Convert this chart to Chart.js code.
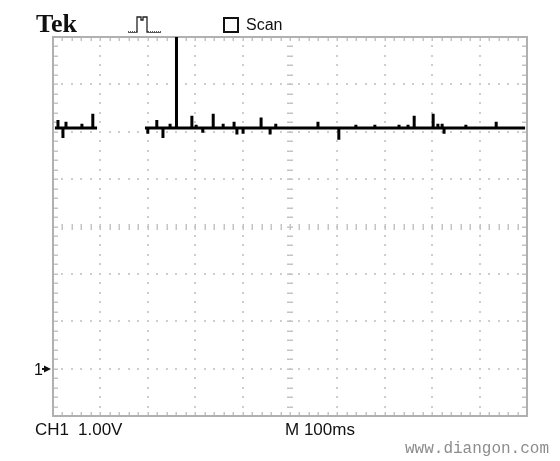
<!DOCTYPE html>
<html><head><meta charset="utf-8">
<script src="https://cdn.jsdelivr.net/npm/chart.js@4"></script>
<style>html,body{margin:0;padding:0;background:#fff;}canvas{display:block;}</style>
</head><body>
<canvas id="c" width="560" height="461"></canvas>
<script>
// ---- data (time in ms, voltage in V, 1 V/div, 100 ms/div, ground marker at 0 V) ----
const timeRange = [0, 1000];
const voltRange = [-1, 7];
const baselineVolts = 5.08;
const segmentStarts = [4, 194];
const segmentEnds = [93, 996];
const spikeTimes = [10.5, 21, 27.4, 61, 84, 200, 219, 232, 247, 260.5, 293, 302, 316, 338, 359, 382, 388, 401, 439, 458, 470, 559, 603, 639, 679, 730, 749, 762, 802, 812, 821, 825, 871, 935];
const spikeVolts = [5.25, 4.87, 5.21, 5.17, 5.38, 4.96, 5.25, 4.87, 5.17, 7.0, 5.34, 5.15, 4.98, 5.38, 5.17, 5.21, 4.94, 4.96, 5.30, 4.94, 5.17, 5.21, 4.83, 5.15, 5.15, 5.15, 5.15, 5.34, 5.38, 5.17, 5.17, 4.96, 5.15, 5.21];
const brandLabel = 'Tek';
const modeLabel = 'Scan';
const channelLabel = 'CH1';
const voltScaleLabel = '1.00V';
const timeScaleLabel = 'M 100ms';
const refMarkerLabel = '1';
const watermarkLabel = 'www.diangon.com';

// build trace points from the arrays
const trace = [];
segmentStarts.forEach((s, k) => {
  const e = segmentEnds[k];
  if (k > 0) trace.push({x: (segmentEnds[k-1] + s) / 2, y: null});
  trace.push({x: s, y: baselineVolts});
  spikeTimes.forEach((t, i) => {
    if (t >= s && t <= e) {
      trace.push({x: t, y: baselineVolts});
      trace.push({x: t, y: spikeVolts[i]});
      trace.push({x: t, y: baselineVolts});
    }
  });
  trace.push({x: e, y: baselineVolts});
});

const graticule = {
  id: 'graticule',
  beforeDatasetsDraw(chart) {
    const {ctx, scales: {x, y}} = chart;
    const X = v => Math.round(x.getPixelForValue(v));
    const Y = v => Math.round(y.getPixelForValue(v));
    const tMin = timeRange[0], tMax = timeRange[1], vMin = voltRange[0], vMax = voltRange[1];
    const tDiv = (tMax - tMin) / 10, vDiv = (vMax - vMin) / 8;
    const tCenter = tMin + 5 * tDiv, vCenter = vMin + 4 * vDiv;
    ctx.save();
    ctx.fillStyle = '#cdcdcd';
    // dotted major lines
    for (let i = 1; i < 10; i++) {
      if (i === 5) continue;
      const px = X(tMin + i * tDiv);
      for (let j = 1; j < 40; j++) ctx.fillRect(px - 1, Y(vMin + j * vDiv / 5) - 1, 2, 2);
    }
    for (let i = 1; i < 8; i++) {
      if (i === 4) continue;
      const py = Y(vMin + i * vDiv);
      for (let j = 1; j < 50; j++) ctx.fillRect(X(tMin + j * tDiv / 5) - 1, py - 1, 2, 2);
    }
    // center cross ticks
    ctx.fillStyle = '#c4c4c4';
    const cx = X(tCenter), cy = Y(vCenter);
    for (let j = 1; j < 40; j++) ctx.fillRect(cx - 3, Y(vMin + j * vDiv / 5) - 0.5, 6, 1.5);
    for (let j = 1; j < 50; j++) ctx.fillRect(X(tMin + j * tDiv / 5) - 0.5, cy - 3, 1.5, 6);
    // border ticks
    const L = X(tMin), R = X(tMax), T = Y(vMax), B = Y(vMin);
    for (let j = 1; j < 50; j++) {
      const px = X(tMin + j * tDiv / 5);
      ctx.fillRect(px - 0.5, T, 1.5, 4);
      ctx.fillRect(px - 0.5, B - 4, 1.5, 4);
    }
    for (let j = 1; j < 40; j++) {
      const py = Y(vMin + j * vDiv / 5);
      ctx.fillRect(L, py - 0.5, 5, 1.5);
      ctx.fillRect(R - 5, py - 0.5, 5, 1.5);
    }
    // border
    ctx.strokeStyle = '#b0b0b0';
    ctx.lineWidth = 2;
    ctx.strokeRect(L, T, R - L, B - T);
    ctx.restore();
  },
  afterDraw(chart) {
    const {ctx, scales: {y}} = chart;
    ctx.save();
    ctx.fillStyle = '#111';
    ctx.textBaseline = 'alphabetic';
    ctx.font = 'bold 26px "Liberation Serif", "DejaVu Serif", serif';
    ctx.fillText(brandLabel, 36, 32);
    // trigger pulse icon
    ctx.strokeStyle = '#222';
    ctx.lineWidth = 1.3;
    ctx.beginPath();
    ctx.moveTo(128, 32); ctx.lineTo(137, 32); ctx.lineTo(137, 17); ctx.lineTo(141, 17);
    ctx.lineTo(141, 20); ctx.lineTo(143, 20); ctx.lineTo(143, 17); ctx.lineTo(147, 17);
    ctx.lineTo(147, 32); ctx.lineTo(161, 32);
    ctx.stroke();
    ctx.fillStyle = '#fff';
    for (let px = 129; px < 137; px += 2) ctx.fillRect(px, 31, 1, 1);
    for (let px = 149; px < 161; px += 2) ctx.fillRect(px, 31, 1, 1);
    // checkbox + Scan
    ctx.strokeStyle = '#111';
    ctx.lineWidth = 2;
    ctx.strokeRect(224, 18, 14, 14);
    ctx.fillStyle = '#111';
    ctx.font = '16px "Liberation Sans", Arial, sans-serif';
    ctx.fillText(modeLabel, 246, 30);
    // bottom labels
    ctx.font = '17px "Liberation Sans", Arial, sans-serif';
    ctx.fillText(channelLabel, 35, 435);
    ctx.fillText(voltScaleLabel, 78, 435);
    ctx.fillText(timeScaleLabel, 285, 435);
    // ground reference marker
    const gy = Math.round(y.getPixelForValue(0));
    ctx.font = '16px "Liberation Sans", Arial, sans-serif';
    ctx.fillText(refMarkerLabel, 34, gy + 6);
    ctx.beginPath();
    ctx.moveTo(44, gy - 3.5); ctx.lineTo(51, gy); ctx.lineTo(44, gy + 3.5); ctx.closePath();
    ctx.fill();
    ctx.fillRect(42, gy - 1, 4, 2);
    // watermark
    ctx.fillStyle = '#8c8c8c';
    ctx.font = '16px "Liberation Mono", "DejaVu Sans Mono", monospace';
    ctx.fillText(watermarkLabel, 405, 453);
    ctx.restore();
  }
};

new Chart(document.getElementById('c'), {
  type: 'line',
  data: {
    datasets: [{
      data: trace,
      borderColor: '#000',
      borderWidth: 3,
      pointRadius: 0,
      tension: 0,
      spanGaps: false,
      borderJoinStyle: 'bevel',
      borderCapStyle: 'butt'
    }]
  },
  options: {
    responsive: false,
    animation: false,
    devicePixelRatio: 1,
    layout: {padding: {left: 53, right: 33, top: 37, bottom: 45}},
    plugins: {legend: {display: false}, tooltip: {enabled: false}},
    scales: {
      x: {type: 'linear', min: timeRange[0], max: timeRange[1], display: false},
      y: {type: 'linear', min: voltRange[0], max: voltRange[1], display: false}
    }
  },
  plugins: [graticule]
});
</script>
</body></html>
